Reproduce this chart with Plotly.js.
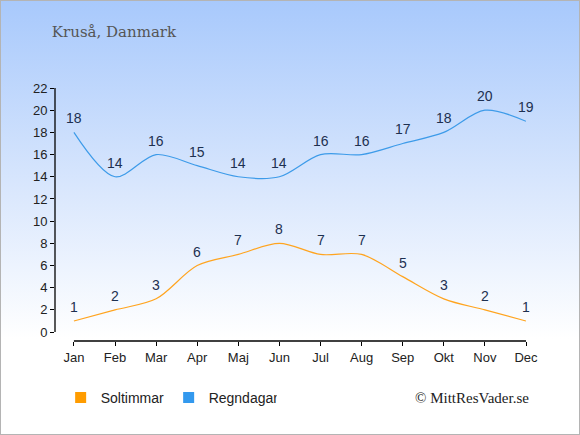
<!DOCTYPE html>
<html><head><meta charset="utf-8">
<script src="https://cdn.plot.ly/plotly-3.0.1.min.js"></script>
<style>
html,body{margin:0;padding:0;}
#chart{width:578px;height:433px;border:1px solid #b4b4b4;background:linear-gradient(to bottom,#a8c9fc 0%,#dbe8fd 45%,#ffffff 78%,#ffffff 100%);}
</style></head>
<body><div id="chart"></div>
<script>
const months = ["Jan","Feb","Mar","Apr","Maj","Jun","Jul","Aug","Sep","Okt","Nov","Dec"];
const soltimmar = [1,2,3,6,7,8,7,7,5,3,2,1];
const regndagar = [18,14,16,15,14,14,16,16,17,18,20,19];
const yTicks = [0,2,4,6,8,10,12,14,16,18,20,22];

const xs = months.map((m,i)=>i);
const labelFont = {family:"Liberation Sans, Arial, sans-serif", size:14, color:"#1d3050"};
const sunColor = "#ffa41f", rainColor = "#3d9be9";

const traces = [
  {x:xs, y:soltimmar, name:"Soltimmar", mode:"lines", showlegend:false,
   line:{color:sunColor, width:1.2, shape:"spline", smoothing:0.9}, hoverinfo:"skip"},
  {x:xs, y:regndagar, name:"Regndagar", mode:"lines", showlegend:false,
   line:{color:rainColor, width:1.2, shape:"spline", smoothing:0.9}, hoverinfo:"skip"},
  {x:[null], y:[null], name:"Soltimmar", mode:"markers", marker:{symbol:"square", size:11, color:"#ff9c00"}},
  {x:[null], y:[null], name:"Regndagar", mode:"markers", marker:{symbol:"square", size:11, color:"#3399ee"}}
];

const valueLabels = [];
[[soltimmar],[regndagar]].forEach(([series])=>{
  series.forEach((v,i)=>{
    valueLabels.push({x:xs[i], y:v, xref:"x", yref:"y", text:String(v), showarrow:false,
      yshift:14, font:labelFont});
  });
});

const layout = {
  width:578, height:433,
  margin:{l:54, r:53, t:87, b:93},
  paper_bgcolor:"rgba(0,0,0,0)", plot_bgcolor:"rgba(0,0,0,0)",
  title:{text:"Kruså, Danmark", x:0.088, xanchor:"left", y:0.93, yanchor:"middle",
         font:{family:"DejaVu Serif, Georgia, serif", size:15, color:"#555555"}},
  xaxis:{range:[-0.46,11], tickvals:xs, ticktext:months, showline:false, showgrid:false, zeroline:false,
         ticks:"outside", ticklen:4, tickcolor:"#000", tickfont:{family:"Liberation Sans, Arial, sans-serif", size:13, color:"#222"}},
  yaxis:{range:[-0.8,22], tickvals:yTicks, showline:false, showgrid:false, zeroline:false,
         ticks:"outside", ticklen:4, tickcolor:"#000", tickfont:{family:"Liberation Sans, Arial, sans-serif", size:13, color:"#222"}},
  shapes:[
    {type:"line", xref:"paper", yref:"y", x0:0, x1:0, y0:0, y1:22, line:{color:"#000", width:1.3}},
    {type:"line", xref:"x", yref:"paper", x0:0, x1:11, y0:0, y1:0, line:{color:"#000", width:1.3}}
  ],
  showlegend:true,
  legend:{orientation:"h", x:0.012, xanchor:"left", y:-0.225, yanchor:"middle",
          font:{family:"Liberation Sans, Arial, sans-serif", size:14, color:"#222"},
          entrywidth:63, bgcolor:"rgba(0,0,0,0)"},
  annotations:valueLabels.concat([
    {text:"© MittResVader.se", xref:"paper", yref:"paper", x:1.01, xanchor:"right", y:-0.225, yanchor:"middle",
     showarrow:false, font:{family:"Liberation Serif, Times New Roman, serif", size:15, color:"#222"}}
  ])
};

Plotly.newPlot("chart", traces, layout, {displayModeBar:false, staticPlot:true});
</script></body></html>
